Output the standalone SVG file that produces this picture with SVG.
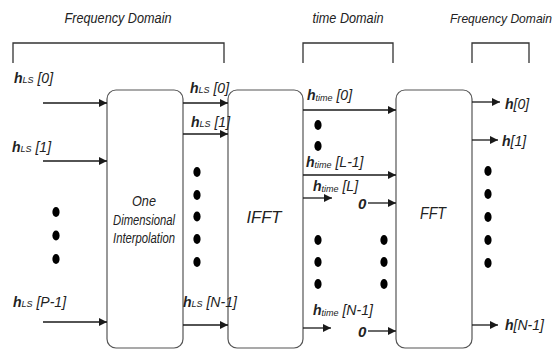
<svg xmlns="http://www.w3.org/2000/svg" width="560" height="351" viewBox="0 0 560 351">
<defs>
<marker id="ah" viewBox="0 0 10 10" refX="10" refY="5" markerWidth="8" markerHeight="8" markerUnits="userSpaceOnUse" orient="auto">
<path d="M0,0 L10,5 L0,10 z" fill="#1a1a1a"/>
</marker>
<style>
text{font-family:"Liberation Sans",Arial,sans-serif;font-style:italic;fill:#222}
.title{font-size:15.5px}
.title2{font-size:13px}
.lbl{font-size:14px}
.b{font-weight:bold}
.sub{font-size:9px}
.box{fill:#fff;stroke:#555;stroke-width:1.2}
.br{fill:none;stroke:#333;stroke-width:1.3}
.ar{fill:none;stroke:#1a1a1a;stroke-width:1.3;marker-end:url(#ah)}
.dot{fill:#000}
.zero{font-size:15px;font-weight:bold}
</style>
</defs>
<g id="titles">
<text class="title" x="118" y="23" text-anchor="middle" textLength="107" lengthAdjust="spacingAndGlyphs">Frequency Domain</text>
<text class="title" x="348" y="23" text-anchor="middle" textLength="71" lengthAdjust="spacingAndGlyphs">time Domain</text>
<text class="title2" x="501" y="23" text-anchor="middle" textLength="102" lengthAdjust="spacingAndGlyphs">Frequency Domain</text>
</g>
<g id="brackets">
<path class="br" d="M13,63 V43 H224 V63"/>
<path class="br" d="M303,63 V43 H393 V63"/>
<path class="br" d="M472,63 V43 H529 V63"/>
</g>
<g id="interp">
<rect class="box" x="107" y="90" width="76" height="258" rx="9"/>
<text x="144" y="206" text-anchor="middle" font-size="14" textLength="24" lengthAdjust="spacingAndGlyphs">One</text>
<text x="144" y="225" text-anchor="middle" font-size="14" textLength="62" lengthAdjust="spacingAndGlyphs">Dimensional</text>
<text x="144" y="243" text-anchor="middle" font-size="14" textLength="62" lengthAdjust="spacingAndGlyphs">Interpolation</text>
</g>
<g id="ifft">
<rect class="box" x="228" y="90" width="75" height="258" rx="9"/>
<text x="264" y="223" text-anchor="middle" font-size="17" textLength="35" lengthAdjust="spacingAndGlyphs">IFFT</text>
</g>
<g id="fft">
<rect class="box" x="396" y="90" width="76" height="258" rx="9"/>
<text x="433" y="219" text-anchor="middle" font-size="16" textLength="26" lengthAdjust="spacingAndGlyphs">FFT</text>
</g>
<g id="connectors">
<line class="ar" x1="43" y1="103" x2="107" y2="103"/>
<line class="ar" x1="43" y1="161" x2="107" y2="161"/>
<line class="ar" x1="43" y1="322" x2="107" y2="322"/>
<line class="ar" x1="183" y1="103" x2="228" y2="103"/>
<line class="ar" x1="183" y1="134" x2="228" y2="134"/>
<line class="ar" x1="183" y1="325" x2="228" y2="325"/>
<line class="ar" x1="303" y1="110" x2="396" y2="110"/>
<line class="ar" x1="303" y1="175" x2="396" y2="175"/>
<line class="ar" x1="303" y1="198" x2="332" y2="198"/>
<line class="ar" x1="368" y1="203" x2="396" y2="203"/>
<line class="ar" x1="303" y1="328" x2="331" y2="328"/>
<line class="ar" x1="368" y1="331" x2="396" y2="331"/>
<line class="ar" x1="472" y1="102" x2="500" y2="102"/>
<line class="ar" x1="472" y1="140" x2="498" y2="140"/>
<line class="ar" x1="472" y1="325" x2="498" y2="325"/>
</g>
<g id="labels">
<text class="lbl" x="14" y="83"><tspan class="b">h</tspan><tspan class="sub">LS</tspan> [0]</text>
<text class="lbl" x="12" y="152"><tspan class="b">h</tspan><tspan class="sub">LS</tspan> [1]</text>
<text class="lbl" x="13" y="307"><tspan class="b">h</tspan><tspan class="sub">LS</tspan> [P-1]</text>
<text class="lbl" x="190" y="93"><tspan class="b">h</tspan><tspan class="sub">LS</tspan> [0]</text>
<text class="lbl" x="191" y="127"><tspan class="b">h</tspan><tspan class="sub">LS</tspan> [1]</text>
<text class="lbl" x="183" y="307" font-size="13"><tspan class="b">h</tspan><tspan class="sub">LS</tspan> [N-1]</text>
<text class="lbl" x="307" y="100"><tspan class="b">h</tspan><tspan class="sub" dy="1">time</tspan><tspan dy="-1"> [0]</tspan></text>
<text class="lbl" x="306" y="167"><tspan class="b">h</tspan><tspan class="sub" dy="1">time</tspan><tspan dy="-1"> [L-1]</tspan></text>
<text class="lbl" x="313" y="191"><tspan class="b">h</tspan><tspan class="sub" dy="1">time</tspan><tspan dy="-1"> [L]</tspan></text>
<text class="lbl" x="313" y="315"><tspan class="b">h</tspan><tspan class="sub" dy="1">time</tspan><tspan dy="-1"> [N-1]</tspan></text>
<text class="zero" x="358" y="209">0</text>
<text class="zero" x="358" y="337">0</text>
<text class="lbl" x="505" y="109"><tspan class="b">h</tspan>[0]</text>
<text class="lbl" x="502" y="146"><tspan class="b">h</tspan>[1]</text>
<text class="lbl" x="505" y="330"><tspan class="b">h</tspan>[N-1]</text>
</g>
<g id="dots">
<ellipse class="dot" cx="56" cy="212" rx="3.6" ry="5"/>
<ellipse class="dot" cx="56" cy="235.5" rx="3.6" ry="5"/>
<ellipse class="dot" cx="56" cy="259" rx="3.6" ry="5"/>
<ellipse class="dot" cx="197" cy="172" rx="3.6" ry="5"/>
<ellipse class="dot" cx="197" cy="195" rx="3.6" ry="5"/>
<ellipse class="dot" cx="197" cy="216.5" rx="3.6" ry="5"/>
<ellipse class="dot" cx="197" cy="239" rx="3.6" ry="5"/>
<ellipse class="dot" cx="197" cy="262" rx="3.6" ry="5"/>
<ellipse class="dot" cx="318" cy="125" rx="3.6" ry="5"/>
<ellipse class="dot" cx="318" cy="146" rx="3.6" ry="5"/>
<ellipse class="dot" cx="318" cy="240" rx="3.6" ry="5"/>
<ellipse class="dot" cx="318" cy="262" rx="3.6" ry="5"/>
<ellipse class="dot" cx="318" cy="284" rx="3.6" ry="5"/>
<ellipse class="dot" cx="384" cy="240" rx="3.6" ry="5"/>
<ellipse class="dot" cx="384" cy="262" rx="3.6" ry="5"/>
<ellipse class="dot" cx="384" cy="284" rx="3.6" ry="5"/>
<ellipse class="dot" cx="488" cy="171" rx="3.6" ry="5"/>
<ellipse class="dot" cx="488" cy="194" rx="3.6" ry="5"/>
<ellipse class="dot" cx="488" cy="217" rx="3.6" ry="5"/>
<ellipse class="dot" cx="488" cy="240" rx="3.6" ry="5"/>
<ellipse class="dot" cx="488" cy="263" rx="3.6" ry="5"/>
</g>
</svg>
